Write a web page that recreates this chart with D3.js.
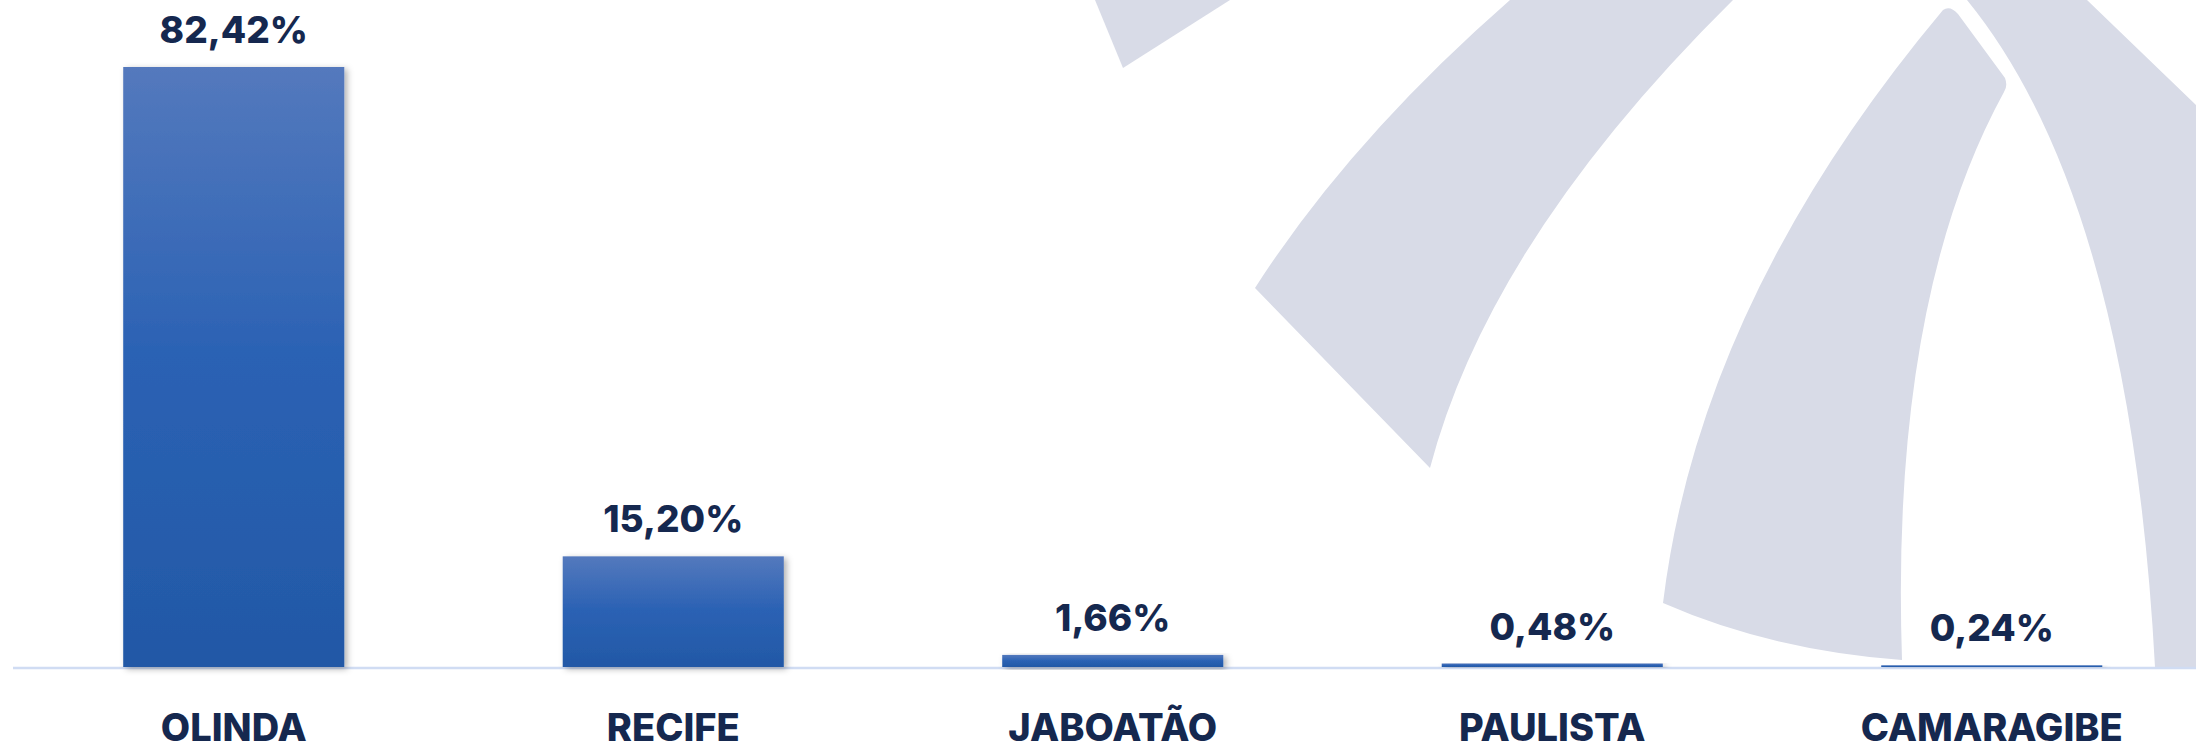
<html><head>
<meta charset="utf-8">
<title>Distribuição por município</title>
<script src="https://d3js.org/d3.v7.min.js"></script>
<style>
  body { margin: 0; background: #fff; }
  text { font-family: Inter, "Open Sans", sans-serif; }
</style>
</head>
<body>
<svg id="chart" width="2196" height="743"></svg>

<script>
  const cidades = ["OLINDA", "RECIFE", "JABOATÃO", "PAULISTA", "CAMARAGIBE"];
  const percentuais = [82.42, 15.20, 1.66, 0.48, 0.24];
  const rotulos = ["82,42%", "15,20%", "1,66%", "0,48%", "0,24%"];

  const svg = d3.select("svg#chart");
  const width = +svg.attr("width");
  const height = +svg.attr("height");
  const base = 667;

  // background logo (decoration)
  const logo = svg.append("g").attr("fill", "#d8dbe7");
  logo.append("path").attr("d", "M1095,0 L1123,68 L1230,0 Z");
  logo.append("path").attr("d", "M1510,0 Q1350,140 1255,288 L1430,468 Q1490,240 1733,0 Z");
  logo.append("path").attr("d", "M1663,603 Q1700,300 1943,10 Q1950,5 1958,14 L2005,78 Q2008,86 2004,92 Q1890,300 1902,660 Q1770,650 1663,603 Z");
  logo.append("path").attr("d", "M1967,0 Q2130,200 2155,667 L2196,667 L2196,105 L2087,0 Z");

  const defs = svg.append("defs");
  const grad = defs.append("linearGradient").attr("id", "barGrad")
      .attr("x1", 0).attr("y1", 0).attr("x2", 0).attr("y2", 1);
  grad.append("stop").attr("offset", "0%").attr("stop-color", "#5479bd");
  grad.append("stop").attr("offset", "48%").attr("stop-color", "#2b62b4");
  grad.append("stop").attr("offset", "100%").attr("stop-color", "#2258a6");

  const shadow = defs.append("filter").attr("id", "shadow")
      .attr("x", "-10%").attr("y", "-10%").attr("width", "130%").attr("height", "130%");
  shadow.append("feDropShadow").attr("dx", 3).attr("dy", 2)
      .attr("stdDeviation", 3).attr("flood-color", "#000").attr("flood-opacity", 0.3);

  const x = d3.scaleBand().domain(cidades).range([14, 2211.5])
      .paddingInner(0.497).paddingOuter(0.2485);
  const y = d3.scaleLinear().domain([0, 82.42]).range([base, 67]);

  // baseline
  svg.append("line")
      .attr("x1", 13).attr("x2", width)
      .attr("y1", base + 1).attr("y2", base + 1)
      .attr("stroke", "#d0dcf3").attr("stroke-width", 2.5);

  svg.selectAll("rect.bar").data(percentuais)
      .join("rect")
      .attr("class", "bar")
      .attr("x", (d, i) => x(cidades[i]))
      .attr("width", x.bandwidth())
      .attr("y", d => y(d))
      .attr("height", d => base - y(d))
      .attr("fill", "url(#barGrad)")
      .attr("filter", "url(#shadow)");

  svg.selectAll("text.valor").data(percentuais)
      .join("text")
      .attr("class", "valor")
      .attr("x", (d, i) => x(cidades[i]) + x.bandwidth() / 2)
      .attr("y", d => y(d) - 24)
      .attr("text-anchor", "middle")
      .attr("font-size", 37)
      .attr("font-weight", 800)
      .attr("fill", "#15284f")
      .text((d, i) => rotulos[i]);

  svg.selectAll("text.cidade").data(cidades)
      .join("text")
      .attr("class", "cidade")
      .attr("x", d => x(d) + x.bandwidth() / 2)
      .attr("y", 741)
      .attr("text-anchor", "middle")
      .attr("font-size", 38)
      .attr("font-weight", 800)
      .attr("fill", "#15284f")
      .text(d => d);
</script>
</body>
</html>
